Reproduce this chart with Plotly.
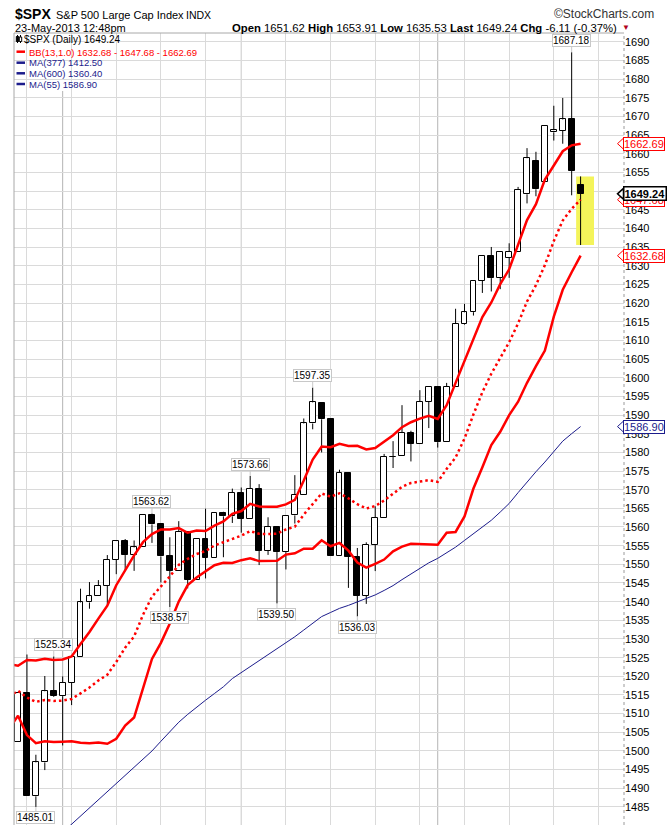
import plotly.graph_objects as go
import pandas as pd

# ---------------- data ----------------
dates = ["2013-02-22","2013-02-25","2013-02-26","2013-02-27","2013-02-28",
 "2013-03-01","2013-03-04","2013-03-05","2013-03-06","2013-03-07","2013-03-08",
 "2013-03-11","2013-03-12","2013-03-13","2013-03-14","2013-03-15",
 "2013-03-18","2013-03-19","2013-03-20","2013-03-21","2013-03-22",
 "2013-03-25","2013-03-26","2013-03-27","2013-03-28",
 "2013-04-01","2013-04-02","2013-04-03","2013-04-04","2013-04-05",
 "2013-04-08","2013-04-09","2013-04-10","2013-04-11","2013-04-12",
 "2013-04-15","2013-04-16","2013-04-17","2013-04-18","2013-04-19",
 "2013-04-22","2013-04-23","2013-04-24","2013-04-25","2013-04-26",
 "2013-04-29","2013-04-30","2013-05-01","2013-05-02","2013-05-03",
 "2013-05-06","2013-05-07","2013-05-08","2013-05-09","2013-05-10",
 "2013-05-13","2013-05-14","2013-05-15","2013-05-16","2013-05-17",
 "2013-05-20","2013-05-21","2013-05-22","2013-05-23"]

opens = [1502.42,1515.60,1487.85,1496.94,1515.99,1514.68,1518.20,1525.20,1539.79,1541.46,1544.26,
 1551.15,1556.22,1552.48,1554.52,1563.21,1560.70,1552.10,1548.34,1558.71,1545.90,1556.89,1551.69,
 1563.75,1562.86,1569.18,1562.17,1570.25,1553.69,1559.98,1553.26,1563.11,1568.61,1587.73,1593.30,
 1588.84,1552.36,1574.57,1552.03,1541.61,1555.25,1562.50,1578.78,1578.93,1585.16,1582.34,1593.58,
 1597.55,1582.77,1597.60,1614.40,1617.55,1625.95,1632.69,1626.69,1632.10,1633.75,1649.13,1658.07,
 1652.45,1665.71,1666.20,1669.39,1651.62]
highs = [1515.64,1525.84,1498.99,1520.08,1525.34,1519.99,1525.27,1543.47,1545.25,1545.78,1552.48,
 1556.27,1556.77,1556.39,1563.32,1563.62,1560.70,1557.25,1561.56,1558.71,1556.89,1564.91,1563.95,
 1564.07,1570.28,1570.57,1573.66,1571.47,1562.60,1559.98,1563.07,1573.89,1589.07,1597.35,1593.30,
 1588.84,1575.35,1574.57,1554.38,1555.89,1565.55,1579.58,1583.00,1592.64,1585.78,1596.65,1597.57,
 1597.55,1598.60,1618.46,1619.77,1626.03,1632.78,1635.01,1633.70,1636.00,1651.10,1661.49,1660.51,
 1667.47,1672.84,1674.93,1687.18,1653.91]
lows = [1502.42,1487.85,1485.01,1494.88,1514.46,1501.48,1512.29,1525.20,1538.11,1541.46,1539.19,
 1547.36,1548.24,1548.25,1554.52,1555.74,1545.13,1538.57,1548.34,1543.55,1545.90,1546.22,1551.69,
 1551.90,1561.08,1558.47,1562.17,1549.80,1552.52,1539.50,1548.63,1560.92,1568.61,1586.17,1579.97,
 1552.28,1552.36,1543.69,1536.03,1539.40,1548.19,1562.50,1575.80,1578.93,1577.56,1582.34,1586.50,
 1581.28,1582.77,1597.60,1614.21,1616.64,1622.70,1623.09,1623.71,1626.74,1633.75,1646.68,1648.60,
 1652.45,1663.52,1662.67,1648.86,1635.53]
closes = [1515.60,1487.85,1496.94,1515.99,1514.68,1518.20,1525.20,1539.79,1541.46,1544.26,1551.18,
 1556.22,1552.48,1554.52,1563.23,1560.70,1552.10,1548.34,1558.71,1545.80,1556.89,1551.69,1563.77,
 1562.85,1569.19,1562.17,1570.25,1553.69,1559.98,1553.28,1563.07,1568.61,1587.73,1593.37,1588.85,
 1552.36,1574.57,1552.01,1541.61,1555.25,1562.50,1578.78,1578.79,1585.16,1582.24,1593.61,1597.57,
 1582.70,1597.59,1614.42,1617.50,1625.96,1632.69,1626.67,1633.70,1633.77,1650.34,1658.78,1650.47,
 1667.47,1666.29,1669.16,1655.35,1649.24]

# Bollinger Bands (13, 1.0) -- first value is 2013-02-21 (one session before the first candle)
bb_upper = [1523.23,1522.82,1524.38,1524.23,1524.71,1524.40,1524.52,1525.31,1528.67,1531.89,1535.46,
 1538.91,1544.40,1548.57,1552.39,1555.93,1558.09,1559.35,1559.34,1559.72,1558.46,1559.03,1558.93,
 1560.35,1561.50,1563.53,1564.27,1566.20,1565.47,1565.40,1565.42,1566.05,1567.25,1572.48,1578.05,
 1581.54,1581.38,1582.29,1581.72,1581.74,1580.79,1581.15,1582.88,1584.59,1586.74,1588.06,1589.03,
 1589.79,1588.94,1592.65,1598.60,1604.52,1610.02,1616.22,1620.15,1625.04,1629.03,1635.47,1642.20,
 1646.46,1653.05,1656.84,1660.65,1662.24,1662.69]
bb_middle = [1514.59,1516.12,1514.32,1513.15,1513.66,1513.41,1513.50,1513.94,1515.44,1516.99,1518.87,
 1520.42,1523.83,1527.68,1530.67,1536.47,1541.38,1544.16,1546.74,1549.86,1551.45,1552.76,1553.55,
 1555.05,1555.95,1556.94,1557.69,1558.90,1558.17,1558.11,1558.20,1559.33,1560.10,1563.32,1566.13,
 1568.99,1568.11,1569.01,1567.69,1566.11,1564.95,1565.63,1567.08,1569.04,1570.74,1571.79,1572.24,
 1572.56,1572.09,1575.57,1578.63,1583.67,1590.16,1596.12,1601.05,1605.28,1609.51,1614.52,1620.41,
 1624.78,1630.16,1636.59,1642.09,1645.24,1647.68]
bb_lower = [1505.95,1509.42,1504.25,1502.07,1502.61,1502.42,1502.48,1502.58,1502.21,1502.08,1502.28,
 1501.94,1503.26,1506.79,1508.96,1517.02,1524.67,1528.96,1534.15,1540.00,1544.43,1546.49,1548.17,
 1549.75,1550.39,1550.36,1551.11,1551.60,1550.86,1550.82,1550.98,1552.61,1552.94,1554.17,1554.20,
 1556.43,1554.84,1555.73,1553.66,1550.47,1549.12,1550.11,1551.27,1553.49,1554.73,1555.51,1555.45,
 1555.34,1555.24,1558.48,1558.67,1562.82,1570.30,1576.01,1581.95,1585.51,1589.98,1593.57,1598.62,
 1603.11,1607.26,1616.34,1623.54,1628.24,1632.68]

# MA(55), one value per candle
ma55 = [1467.5,1469.6,1471.6,1473.8,1476.0,1478.2,1480.4,1482.6,1484.8,1487.0,1489.2,1491.3,1493.4,
 1495.6,1497.8,1500.0,1502.6,1505.2,1507.7,1509.8,1511.8,1513.6,1515.4,1517.2,1519.4,1521.0,1522.6,
 1524.2,1525.8,1527.2,1528.8,1530.6,1532.4,1534.2,1536.0,1537.1,1538.2,1539.0,1539.9,1540.7,1541.8,
 1543.0,1544.3,1545.9,1547.4,1548.9,1550.4,1551.6,1553.0,1554.6,1556.4,1558.2,1559.9,1561.8,1564.0,
 1566.3,1569.2,1572.1,1574.8,1577.4,1580.2,1583.0,1585.0,1586.9]

high_label_idx = [4, 15, 26, 33, 62]
low_label_idx = [2, 17, 29, 38]
y_tick_vals = list(range(1485, 1691, 5))

# ---------------- geometry helpers ----------------
W, H = 668, 825
ML, MR, MT, MB = 14, 44, 33, 0
PW, PH = W - ML - MR, H - MT - MB
FONT = "Liberation Sans, Arial, sans-serif"
RED = "#ff0000"
NAVY = "#1c1c8c"


def PX(x):  # window pixel -> paper x
    return (x - ML) / PW


def PY(y):  # window pixel -> paper y
    return (H - MB - y) / PH


PPU = PH / (1692.33 - 1480.17)  # pixels per price unit

n = len(dates)
idx = list(range(n))
bb_x = list(range(-1, n))

# candle bodies and wicks
body_base = [min(o, c) for o, c in zip(opens, closes)]
body_h = [max(abs(c - o), 0.04) for o, c in zip(opens, closes)]
body_col = ["white" if c >= o else "black" for o, c in zip(opens, closes)]
wx, wy = [], []
for i, (o, h, l, c) in enumerate(zip(opens, highs, lows, closes)):
    top, bot = max(o, c), min(o, c)
    wx += [i, i, None, i, i, None]
    wy += [h, top, None, bot, l, None]

# date-derived grid positions
dts = pd.to_datetime(pd.Series(dates))
future = pd.bdate_range(dts.iloc[-1] + pd.Timedelta(days=1), periods=5)
all_days = list(dts) + list(future)
mondays = [k for k, d in enumerate(all_days) if d.dayofweek == 0]
month_starts = [k for k in range(1, n) if dts.iloc[k].month != dts.iloc[k - 1].month]

fig = go.Figure()
fig.add_trace(go.Scatter(x=wx, y=wy, mode="lines", line=dict(color="black", width=1),
                         hoverinfo="skip"))
fig.add_trace(go.Bar(x=idx, y=body_h, base=body_base, width=0.66,
                     marker=dict(color=body_col, line=dict(color="black", width=1))))
fig.add_trace(go.Scatter(x=idx, y=ma55, mode="lines", line=dict(color=NAVY, width=1)))
fig.add_trace(go.Scatter(x=bb_x, y=bb_upper, mode="lines", line=dict(color=RED, width=2.5)))
fig.add_trace(go.Scatter(x=bb_x, y=bb_lower, mode="lines", line=dict(color=RED, width=2.5)))
fig.add_trace(go.Scatter(x=bb_x, y=bb_middle, mode="lines",
                         line=dict(color=RED, width=2.5, dash="2.5px,3px")))

shapes = []
for k in month_starts:
    shapes.append(dict(type="line", x0=k, x1=k, y0=0, y1=1, xref="x", yref="paper",
                       line=dict(color="#b4b4b4", width=1), layer="between"))
shapes.append(dict(type="rect", x0=idx[-1] - 0.5, x1=idx[-1] + 1.5, y0=lows[-1], y1=highs[-1],
                   xref="x", yref="y", fillcolor="#f4f45a", line=dict(width=0), layer="between"))
shapes.append(dict(type="rect", x0=0, x1=PX(197), y0=PY(91), y1=1, xref="paper", yref="paper",
                   fillcolor="white", line=dict(width=0), layer="between"))
shapes.append(dict(type="line", x0=0, x1=0, y0=0, y1=1, xref="paper", yref="paper",
                   line=dict(color="#a8a8a8", width=1)))
shapes.append(dict(type="line", x0=0, x1=1, y0=1, y1=1, xref="paper", yref="paper",
                   line=dict(color="#a8a8a8", width=1)))
shapes.append(dict(type="line", x0=1, x1=1, y0=0, y1=1, xref="paper", yref="paper",
                   line=dict(color="#9a9a9a", width=1, dash="dot")))
for yy, col in [(51.7, RED), (62.7, NAVY), (73.3, NAVY), (84.0, NAVY)]:
    shapes.append(dict(type="line", x0=PX(16.5), x1=PX(25), y0=PY(yy), y1=PY(yy),
                       xref="paper", yref="paper", line=dict(color=col, width=2.5)))
shapes.append(dict(type="line", x0=PX(17.5), x1=PX(17.5), y0=PY(35), y1=PY(43), xref="paper",
                   yref="paper", line=dict(color="black", width=1)))
shapes.append(dict(type="rect", x0=PX(16.3), x1=PX(18.7), y0=PY(41.5), y1=PY(36.5), xref="paper",
                   yref="paper", fillcolor="black", line=dict(color="black", width=1)))
shapes.append(dict(type="line", x0=PX(20.5), x1=PX(20.5), y0=PY(35), y1=PY(43), xref="paper",
                   yref="paper", line=dict(color="black", width=1)))
shapes.append(dict(type="rect", x0=PX(19.3), x1=PX(21.7), y0=PY(41.5), y1=PY(37), xref="paper",
                   yref="paper", fillcolor="white", line=dict(color="black", width=1)))

ann = []


def txt(x, y, s, size=11, color="black", anchor="left", **kw):
    ann.append(dict(x=PX(x), y=PY(y), xref="paper", yref="paper", text=s, showarrow=False,
                    xanchor=anchor, yanchor="middle", font=dict(family=FONT, size=size, color=color),
                    **kw))


# header
txt(13, 14, "<b>$SPX</b>", size=14)
txt(54, 14.5, "S&P 500 Large Cap Index", size=11)
txt(184, 14.5, "INDX", size=10.5)
txt(656, 14, "©StockCharts.com", size=12, color="#333333", anchor="right")
txt(13, 27.5, "23-May-2013 12:48pm", size=11)
txt(619, 27.5, "<b>Open</b> 1651.62 <b>High</b> 1653.91 <b>Low</b> 1635.53 <b>Last</b> 1649.24 "
    "<b>Chg</b> -6.11 (-0.37%)", size=11.3, anchor="right")
txt(620, 27.5, "▼", size=8, color="#b00020")
# legend texts
txt(22, 39.5, "$SPX (Daily) 1649.24", size=10)
txt(26.5, 52, "BB(13,1.0) 1632.68 - 1647.68 - 1662.69", size=9.5, color=RED)
txt(26.5, 63, "MA(377) 1412.50", size=9.5, color=NAVY)
txt(26.5, 73.6, "MA(600) 1360.40", size=9.5, color=NAVY)
txt(26.5, 84.2, "MA(55) 1586.90", size=9.5, color=NAVY)

# high / low value call-outs
for i in high_label_idx:
    ann.append(dict(x=i, y=highs[i], xref="x", yref="y", text=f"{highs[i]:.2f}", showarrow=True,
                    arrowhead=0, arrowwidth=1, arrowcolor="#c8c8c8", ax=0, ay=-12, standoff=0,
                    font=dict(family=FONT, size=10, color="black"), bgcolor="white",
                    bordercolor="#c8c8c8", borderwidth=1, borderpad=0))
for i in low_label_idx:
    ann.append(dict(x=i, y=lows[i], xref="x", yref="y", text=f"{lows[i]:.2f}", showarrow=True,
                    arrowhead=0, arrowwidth=1, arrowcolor="#c8c8c8", ax=0, ay=11, standoff=0,
                    font=dict(family=FONT, size=10, color="black"), bgcolor="white",
                    bordercolor="#c8c8c8", borderwidth=1, borderpad=0))


# right axis value boxes with a left-pointing notch
def vbox(val, color, bold=False, bw=1):
    s = f"{val:.2f}"
    hh = 5.5 / PPU
    shapes.append(dict(type="path", xref="paper", yref="y",
                       path=f"M {PX(623.5)},{val + hh} L {PX(617.5)},{val} L {PX(623.5)},{val - hh} Z",
                       fillcolor="white", line=dict(color=color, width=bw), layer="above"))
    ann.append(dict(x=PX(622.5), y=val, xref="paper", yref="y", text=f"<b>{s}</b>" if bold else s,
                    showarrow=False, xanchor="left", yanchor="middle",
                    font=dict(family=FONT, size=11, color=color), bgcolor="white",
                    bordercolor=color, borderwidth=bw, borderpad=0))


vbox(bb_upper[-1], RED)
vbox(bb_lower[-1], RED)
vbox(ma55[-1], NAVY)
vbox(bb_middle[-1], RED)
vbox(closes[-1], "black", bold=True, bw=1.5)

fig.update_layout(
    width=W, height=H, margin=dict(l=ML, r=MR, t=MT, b=MB, pad=0),
    plot_bgcolor="white", paper_bgcolor="white", showlegend=False, bargap=0,
    font=dict(family=FONT, size=11, color="black"),
    xaxis=dict(range=[-0.45, 67.86], tickvals=mondays, showticklabels=False, ticks="",
               showgrid=True, gridcolor="#dadada", gridwidth=1, zeroline=False, showline=False,
               fixedrange=True),
    yaxis=dict(side="right", range=[1480.17, 1692.33], tickvals=y_tick_vals,
               ticktext=[str(v) for v in y_tick_vals], showgrid=True, gridcolor="#dadada",
               gridwidth=1, zeroline=False, showline=False, ticks="",
               tickfont=dict(family=FONT, size=11, color="black"), fixedrange=True),
    shapes=shapes, annotations=ann,
)
# remove the browser's default 8px page margin so the figure fills the window exactly
fig.write_html("out.html", config={"displayModeBar": False},
               post_script="document.body.style.margin='0';document.body.style.overflow='hidden';")
